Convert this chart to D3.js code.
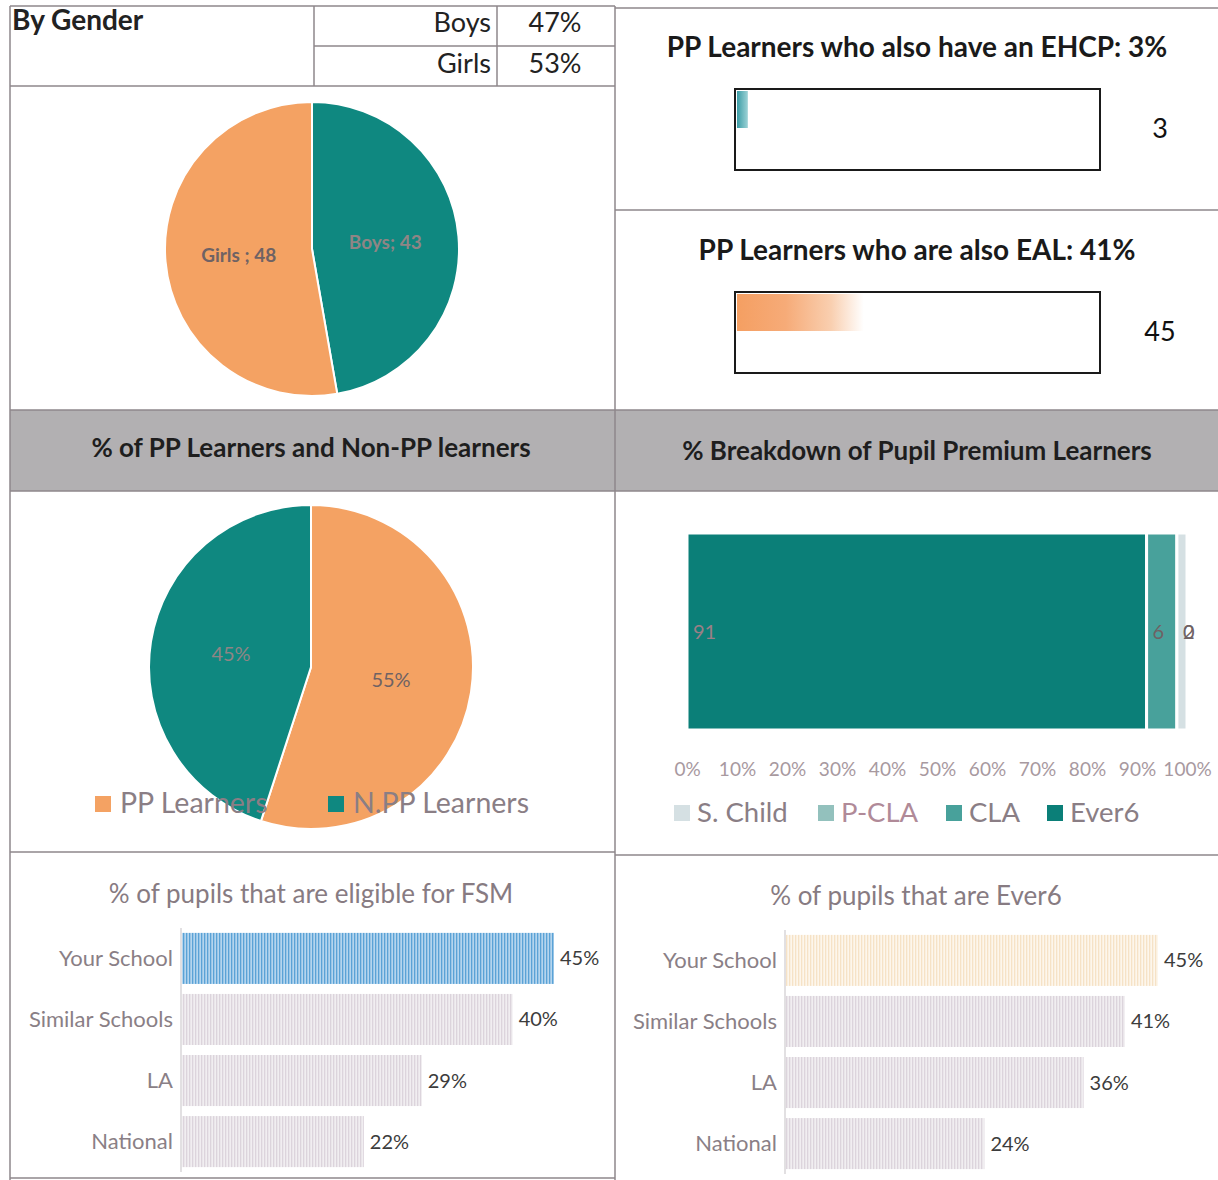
<!DOCTYPE html>
<html>
<head>
<meta charset="utf-8">
<script src="https://cdn.jsdelivr.net/npm/d3@7"></script>
<style>
  body { margin: 0; background: #fff; }
  text { font-family: Lato, "Open Sans", sans-serif; }
</style>
</head>
<body>
<svg id="mainsvg" width="1218" height="1180"></svg>
<script>
// ---- data ----
const genderLabels = ["Boys", "Girls"]
const genderPct = ["47%", "53%"]
const genderCounts = [43, 48]

const ppLabels = ["PP Learners", "N.PP Learners"]
const ppShares = [55, 45]

const ehcpPct = 3
const ehcpCount = 3
const ealPct = 41
const ealCount = 45

const breakdownKeys = ["Ever6", "CLA", "P-CLA", "S. Child"]
const breakdownValues = [91, 6, 0, 2]

const compareCats = ["Your School", "Similar Schools", "LA", "National"]
const fsmValues = [45, 40, 29, 22]
const ever6Values = [45, 41, 36, 24]

const ORANGE = "#f4a263"
const TEAL = "#0f8880"
const LINE = "#8e878b"
const TXT_GRAY = "#8a7e85"

let svg = d3.select("#mainsvg")
let defs = svg.append("defs")

// gradients for the two progress bars
function hGrad (id, stops) {
    let g = defs.append("linearGradient").attr("id", id)
    stops.forEach(s => g.append("stop").attr("offset", s[0]).attr("stop-color", s[1]))
}
hGrad("gradOrange", [["0%", "#f59f62"], ["30%", "#f6ab78"], ["58%", "#f9cfb0"], ["78%", "#ffffff"], ["100%", "#ffffff"]])
hGrad("gradTeal", [["0%", "#3b9da6"], ["100%", "#9dd2d6"]])

// striped patterns for the comparison bars
function stripes (id, bg, fg) {
    let p = defs.append("pattern").attr("id", id)
        .attr("patternUnits", "userSpaceOnUse").attr("width", 3).attr("height", 10)
    p.append("rect").attr("width", 3).attr("height", 10).attr("fill", bg)
    p.append("rect").attr("width", 1.3).attr("height", 10).attr("fill", fg)
}
stripes("stripeBlue", "#b4d5ee", "#5aa2d6")
stripes("stripeGray", "#f1eef1", "#dcd4dc")
stripes("stripeCream", "#fdf6ec", "#f6e2c6")

// ---- frame ----
let frame = svg.append("g").attr("id", "frame")
frame.append("rect").attr("x", 10).attr("y", 410).attr("width", 1208).attr("height", 81).attr("fill", "#b2b0b2")
const lines = [
    [10, 6, 615, 6], [10, 6, 10, 1180], [314, 6, 314, 86], [497, 6, 497, 86],
    [314, 46, 615, 46], [10, 86, 615, 86], [615, 6, 615, 1180],
    [615, 8, 1218, 8], [615, 210, 1218, 210], [10, 410, 1218, 410], [10, 491, 1218, 491],
    [10, 852, 615, 852], [615, 855, 1218, 855], [10, 1178, 615, 1178]
]
frame.selectAll("line").data(lines).enter().append("line")
    .attr("x1", d => d[0]).attr("y1", d => d[1]).attr("x2", d => d[2]).attr("y2", d => d[3])
    .attr("stroke", LINE).attr("stroke-width", 1.5)

// ---- gender table ----
svg.append("text").attr("x", 12).attr("y", 30).text("By Gender")
    .attr("font-size", 28).attr("font-weight", "bold").attr("fill", "#222")
genderLabels.forEach((g, i) => {
    svg.append("text").attr("x", 491).attr("y", 32 + i * 41).attr("text-anchor", "end")
        .attr("font-size", 27).attr("fill", "#222").text(g)
    svg.append("text").attr("x", 555).attr("y", 32 + i * 41).attr("text-anchor", "middle")
        .attr("font-size", 27).attr("fill", "#222").text(genderPct[i])
})

// ---- pie helper ----
// labels sit on both colours, so teal slices get a lighter grey to stay readable
function drawPie (cx, cy, r, values, colors, labelFn) {
    let g = svg.append("g").attr("transform", `translate(${cx}, ${cy})`)
    let arcs = d3.pie().sort(null)(values)
    let arc = d3.arc().innerRadius(0).outerRadius(r)
    let labelArc = d3.arc().innerRadius(r / 2).outerRadius(r / 2)
    g.selectAll("path").data(arcs).enter().append("path")
        .attr("d", arc).attr("fill", (d, i) => colors[i])
        .attr("stroke", "#fff").attr("stroke-width", 2)
    g.selectAll("text").data(arcs).enter().append("text")
        .attr("transform", d => `translate(${labelArc.centroid(d)})`)
        .attr("text-anchor", "middle").attr("dy", "0.35em")
        .attr("font-size", 20)
        .attr("fill", (d, i) => colors[i] === TEAL ? "#8f8585" : "#6f6264")
        .text((d, i) => labelFn(d, i))
    return g
}

// 1. boys / girls pie
drawPie(312, 249, 147, genderCounts, [TEAL, ORANGE], (d, i) => i === 0 ? `${genderLabels[0]}; ${d.data}` : `${genderLabels[1]} ; ${d.data}`)
    .selectAll("text").attr("font-weight", "bold").attr("font-size", 19)

// 2. PP vs non-PP pie
svg.append("text").attr("x", 311).attr("y", 457).attr("text-anchor", "middle")
    .attr("font-size", 26).attr("font-weight", "bold").attr("fill", "#1e1e1e")
    .text("% of PP Learners and Non-PP learners")
drawPie(311, 667, 162, ppShares, [ORANGE, TEAL], d => `${d.data}%`)

let ppLegend = svg.append("g")
const ppLegendX = [95, 328]
ppLabels.forEach((l, i) => {
    ppLegend.append("rect").attr("x", ppLegendX[i]).attr("y", 796).attr("width", 16).attr("height", 16)
        .attr("fill", [ORANGE, TEAL][i])
    ppLegend.append("text").attr("x", ppLegendX[i] + 25).attr("y", 813)
        .attr("font-size", 28.5).attr("fill", TXT_GRAY).text(l)
})

// ---- progress bars (EHCP / EAL) ----
let progX = d3.scaleLinear().domain([0, 100]).range([737, 1098])
function drawProgress (top, title, value, label, fill, labelFont) {
    svg.append("text").attr("x", 917).attr("y", top - 32).attr("text-anchor", "middle")
        .attr("font-size", 28).attr("font-weight", "bold").attr("fill", "#1a1a1a").text(title)
    svg.append("rect").attr("x", progX(0)).attr("y", top + 2)
        .attr("width", progX(value) - progX(0)).attr("height", 37).attr("fill", fill)
    svg.append("rect").attr("x", 735).attr("y", top).attr("width", 365).attr("height", 81)
        .attr("fill", "none").attr("stroke", "#1a1a1a").attr("stroke-width", 2)
    svg.append("text").attr("x", 1160).attr("y", top + 40).attr("dy", "0.35em").attr("text-anchor", "middle")
        .attr("font-size", 27).attr("font-family", labelFont).attr("fill", "#111").text(label)
}
drawProgress(89, `PP Learners who also have an EHCP: ${ehcpPct}%`, ehcpCount, ehcpCount, "url(#gradTeal)", "Liberation Sans")
drawProgress(292, `PP Learners who are also EAL: ${ealPct}%`, ealCount, ealCount, "url(#gradOrange)", "Lato")

// ---- breakdown stacked bar ----
svg.append("text").attr("x", 917).attr("y", 460).attr("text-anchor", "middle")
    .attr("font-size", 26).attr("font-weight", "bold").attr("fill", "#1e1e1e")
    .text("% Breakdown of Pupil Premium Learners")

const breakdownColors = { "Ever6": "#0b7f78", "CLA": "#48a19b", "P-CLA": "#93c1bd", "S. Child": "#d5e0e3" }
let row = {}
breakdownKeys.forEach((k, i) => row[k] = breakdownValues[i])
let stacked = d3.stack().keys(breakdownKeys).offset(d3.stackOffsetExpand)([row])

let bx = d3.scaleLinear().domain([0, 1]).range([687, 1187])
let by = d3.scaleBand().domain(["PP"]).range([533, 730])

let bgroup = svg.append("g")
bgroup.selectAll("rect").data(stacked).enter().append("rect")
    .attr("x", d => bx(d[0][0])).attr("y", by("PP"))
    .attr("width", d => bx(d[0][1]) - bx(d[0][0])).attr("height", by.bandwidth())
    .attr("fill", d => breakdownColors[d.key])
    .attr("stroke", "#fff").attr("stroke-width", 3)
bgroup.selectAll("text").data(stacked).enter().append("text")
    .attr("x", d => bx(d[0][0]) + 6).attr("y", by("PP") + by.bandwidth() / 2).attr("dy", "0.35em")
    .attr("font-size", 20).attr("fill", d => d.key === "Ever6" ? "#9a7f86" : "#6f6264")
    .text(d => d[0].data[d.key])

let bAxis = svg.append("g").attr("transform", "translate(0, 759)")
    .call(d3.axisBottom(bx).ticks(10).tickFormat(d3.format(".0%")).tickSize(0))
bAxis.select(".domain").remove()
bAxis.selectAll("text").attr("font-size", 19).attr("fill", "#a8999f")
    .attr("font-family", "Lato, sans-serif")

let bLegend = svg.append("g")
const bLegendX = [674, 818, 946, 1047]
breakdownKeys.slice().reverse().forEach((k, i) => {
    bLegend.append("rect").attr("x", bLegendX[i]).attr("y", 805).attr("width", 16).attr("height", 16)
        .attr("fill", breakdownColors[k])
    bLegend.append("text").attr("x", bLegendX[i] + 23).attr("y", 822)
        .attr("font-size", 27.5).attr("fill", k === "P-CLA" ? "#b08a98" : TXT_GRAY).text(k)
})

// ---- comparison bar charts ----
function drawCompare (x0, top, cx, title, values, firstFill) {
    svg.append("text").attr("x", cx).attr("y", top - 25).attr("text-anchor", "middle")
        .attr("font-size", 26).attr("fill", "#877b82").text(title)
    let x = d3.scaleLinear().domain([0, 45]).range([x0, x0 + 372])
    let y = d3.scaleBand().domain(compareCats).range([top, top + 244])
        .paddingInner(0.164).paddingOuter(0.08)
    let g = svg.append("g")
    g.append("line").attr("x1", x0).attr("x2", x0).attr("y1", top).attr("y2", top + 244)
        .attr("stroke", "#e2e0e2").attr("stroke-width", 2)
    g.selectAll("rect").data(values).enter().append("rect")
        .attr("x", x(0) + 1).attr("y", (d, i) => y(compareCats[i]))
        .attr("width", d => x(d) - x(0)).attr("height", y.bandwidth())
        .attr("fill", (d, i) => i === 0 ? firstFill : "url(#stripeGray)")
    g.selectAll(".val").data(values).enter().append("text").attr("class", "val")
        .attr("x", d => x(d) + 7).attr("y", (d, i) => y(compareCats[i]) + y.bandwidth() / 2)
        .attr("dy", "0.35em").attr("font-size", 20).attr("fill", "#3c3c3c").text(d => d + "%")
    g.selectAll(".cat").data(compareCats).enter().append("text").attr("class", "cat")
        .attr("x", x0 - 8).attr("y", d => y(d) + y.bandwidth() / 2)
        .attr("dy", "0.35em").attr("text-anchor", "end")
        .attr("font-size", 22).attr("fill", "#8a7f86").text(d => d)
}
drawCompare(181, 928, 311, "% of pupils that are eligible for FSM", fsmValues, "url(#stripeBlue)")
drawCompare(785, 930, 916, "% of pupils that are Ever6", ever6Values, "url(#stripeCream)")
</script>
</body>
</html>
